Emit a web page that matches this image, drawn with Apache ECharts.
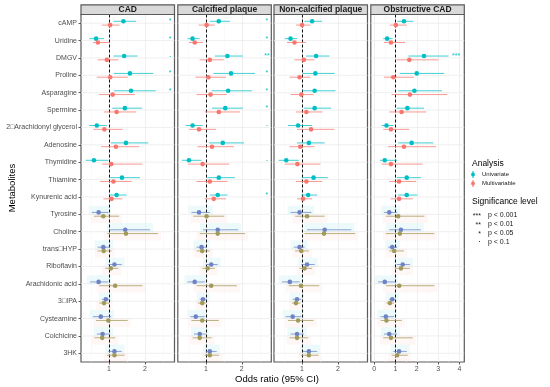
<!DOCTYPE html>
<html><head><meta charset="utf-8">
<script src="https://cdn.jsdelivr.net/npm/echarts@6/dist/echarts.min.js"></script>
<style>html,body{margin:0;padding:0;background:#fff}#c{width:550px;height:387px}</style>
</head><body><div id="c"></div>
<script>
const metabolites = ['cAMP','Uridine','DMGV','Proline','Asparagine','Spermine','2\u25A1Arachidonyl glycerol','Adenosine','Thymidine','Thiamine','Kynurenic acid','Tyrosine','Choline','trans\u25A1HYP','Riboflavin','Arachidonic acid','3\u25A1IPA','Cysteamine','Colchicine','3HK'];
const panels = ['CAD','Calcified plaque','Non-calcified plaque','Obstructive CAD'];
const xTicksA = [1,2];
const xTicksB = [0,1,2,3,4];
// [odds ratio, lower 95% CI, upper 95% CI]
const cadUni = [[1.40,1.12,1.75],[0.64,0.45,0.86],[1.42,1.12,1.79],[1.58,1.14,2.23],[1.61,1.14,2.30],[1.44,1.09,1.92],[0.66,0.45,0.94],[1.47,1.05,2.09],[0.58,0.35,0.98],[1.36,1.03,1.86],[1.21,1.01,1.49],[0.71,0.52,0.98],[1.45,1.03,2.14],[0.84,0.68,1.03],[1.15,0.98,1.35],[0.71,0.47,0.98],[0.91,0.80,1.01],[0.77,0.55,1.06],[0.82,0.66,1.03],[1.15,0.98,1.35]];
const cadMulti = [[1.03,0.80,1.29],[0.69,0.55,1.01],[0.94,0.68,1.26],[1.03,0.66,1.52],[1.10,0.72,1.72],[1.21,0.86,1.75],[0.87,0.56,1.38],[1.19,0.78,1.84],[1.06,0.80,1.93],[1.12,0.75,1.63],[1.07,0.84,1.37],[0.84,0.58,1.28],[1.47,0.95,2.36],[0.85,0.68,1.07],[1.05,0.89,1.26],[1.17,0.73,1.93],[0.86,0.73,1.01],[0.98,0.64,1.52],[0.81,0.59,1.17],[1.15,0.94,1.43]];
const calcUni = [[1.36,1.11,1.67],[0.63,0.49,0.83],[1.60,1.25,2.03],[1.70,1.21,2.37],[1.62,1.16,2.28],[1.54,1.17,2.03],[0.63,0.44,0.91],[1.47,1.09,2.06],[0.53,0.33,0.88],[1.36,1.04,1.81],[1.33,1.11,1.60],[0.81,0.60,1.11],[1.33,0.92,1.90],[0.88,0.74,1.02],[1.15,1.00,1.33],[0.69,0.49,0.97],[0.92,0.83,1.02],[0.72,0.57,0.97],[0.83,0.67,1.00],[1.11,1.00,1.30]];
const calcMulti = [[1.02,0.80,1.25],[0.69,0.53,0.92],[1.11,0.83,1.50],[1.07,0.71,1.56],[1.13,0.74,1.58],[1.36,0.97,1.95],[0.81,0.53,1.28],[1.17,0.77,1.78],[0.91,0.51,1.65],[1.11,0.74,1.60],[1.22,0.97,1.56],[1.02,0.65,1.51],[1.33,0.83,2.09],[0.90,0.74,1.11],[1.05,0.90,1.25],[1.15,0.74,1.86],[0.90,0.78,1.00],[0.90,0.60,1.36],[0.83,0.63,1.16],[1.11,0.97,1.37]];
const nonUni = [[1.28,1.07,1.56],[0.68,0.52,0.86],[1.39,1.11,1.76],[1.37,1.02,1.91],[1.35,1.00,1.93],[1.35,1.05,1.81],[0.89,0.61,1.28],[1.19,0.86,1.63],[0.56,0.35,0.91],[1.32,1.00,1.72],[1.17,0.98,1.42],[0.93,0.68,1.26],[1.63,1.14,2.37],[0.93,0.77,1.07],[1.14,0.98,1.35],[0.66,0.44,0.93],[0.86,0.74,0.98],[0.74,0.54,0.98],[0.86,0.68,1.05],[1.19,1.02,1.42]];
const nonMulti = [[1.00,0.83,1.23],[0.79,0.58,1.11],[1.05,0.79,1.35],[0.93,0.65,1.23],[0.98,0.68,1.32],[1.12,0.83,1.56],[1.25,0.86,1.90],[0.95,0.65,1.35],[0.87,0.52,1.51],[1.12,0.83,1.56],[1.03,0.86,1.28],[1.14,0.81,1.63],[1.61,1.07,2.48],[0.98,0.81,1.19],[1.07,0.93,1.28],[0.97,0.63,1.48],[0.83,0.72,0.95],[0.89,0.61,1.32],[0.86,0.65,1.17],[1.19,0.98,1.46]];
const obsUni = [[1.40,1.08,1.84],[0.61,0.43,0.87],[2.34,1.61,3.49],[2.00,1.21,3.29],[1.89,1.13,3.18],[1.56,1.06,2.34],[0.58,0.35,0.90],[1.76,1.13,2.78],[0.50,0.27,1.08],[1.53,1.06,2.19],[1.53,1.13,2.03],[0.71,0.46,1.08],[1.26,0.71,2.19],[0.85,0.66,1.08],[1.34,1.06,1.68],[0.50,0.19,0.97],[0.85,0.71,1.02],[0.55,0.30,0.93],[0.71,0.46,1.08],[1.17,0.90,1.53]];
const obsMulti = [[1.02,0.74,1.53],[0.79,0.46,1.45],[1.65,1.06,3.02],[0.90,0.46,1.87],[1.68,0.82,3.44],[1.29,0.71,2.44],[0.79,0.43,1.65],[1.40,0.66,2.91],[0.79,0.35,2.28],[1.17,0.71,1.97],[1.17,0.77,1.81],[1.13,0.55,2.36],[1.21,0.55,2.82],[0.94,0.71,1.40],[1.26,0.97,1.68],[1.18,0.55,2.83],[0.74,0.58,0.93],[0.58,0.30,1.29],[0.79,0.43,1.81],[1.08,0.82,1.58]];
// significance of univariate estimates, per metabolite
const sigCad  = ['*','*','\u00B7','*','*','','','','','','','','','','','','','','',''];
const sigCalc = ['*','*','**','*','*','*','\u00B7','','\u00B7','','*','','','','','','','','',''];
const sigNon  = ['','','','','','','','','','','','','','','','','','','',''];
const sigObs  = ['','','***','','','','','','','','','','','','','','','','',''];
const sigLevels = ['***','**','*','\u00B7'];
const sigLabels = ['p < 0.001','p < 0.01','p < 0.05','p < 0.1'];
const analysisNames = ['Univariate','Multivariable'];

const uniSets = [cadUni, calcUni, nonUni, obsUni];
const multiSets = [cadMulti, calcMulti, nonMulti, obsMulti];
const sigSets = [sigCad, sigCalc, sigNon, sigObs];

// ---- style/layout ----
const FONT = 'Liberation Sans, Arial, sans-serif';
const gridLefts = [81, 177.8, 274, 370.8];
const gridW = 93.5, gridTop = 14.5, gridH = 347.5;
const xRanges = [[0.22,2.82],[0.22,2.82],[0.22,2.82],[-0.155,4.23]];
const sigX = [2.7, 2.7, 2.7, 3.85];
const TEAL = '#00BFC4', RED = '#F8766D', BLUE = '#6e83c6', OLIVE = '#a29a5a';
const lowerStart = 11;

const chart = echarts.init(document.getElementById('c'), null, {renderer:'canvas'});

const grids = [], xAxes = [], yAxes = [], series = [], graphics = [];

panels.forEach((name, g) => {
  grids.push({left: gridLefts[g], top: gridTop, width: gridW, height: gridH, show: true,
    borderColor: '#5a5a5a', borderWidth: 1.2, backgroundColor: '#fff', containLabel: false, outerBoundsMode: 'none'});
  const ticks = g === 3 ? xTicksB : xTicksA;
  xAxes.push({type:'value', gridIndex:g, min:xRanges[g][0], max:xRanges[g][1],
    axisLine:{show:false}, splitLine:{show:false},
    axisTick:{show:true, customValues: ticks, length:2.5, lineStyle:{color:'#333', width:0.8}},
    axisLabel:{show:true, customValues: ticks, fontSize:7, color:'#4d4d4d', margin:3.5, fontFamily:FONT}});
  yAxes.push({type:'category', gridIndex:g, data: metabolites, inverse:true, boundaryGap:true,
    axisLine:{show:false}, splitLine:{show:false},
    axisTick:{show: g===0, alignWithLabel:true, length:2.5, lineStyle:{color:'#333', width:0.8}},
    axisLabel:{show: g===0, fontSize:7, color:'#4d4d4d', margin:4, fontFamily:FONT}});

  const major = ticks.map(v => ({xAxis: v, lineStyle:{color:'#ebebeb', width:0.8, type:'solid'}}));
  const minor = (g===3 ? [0.5,1.5,2.5,3.5] : [0.5,1.5,2.5]).map(v => ({xAxis: v, lineStyle:{color:'#f5f5f5', width:0.5, type:'solid'}}));

  // row grid lines + vertical grid lines
  series.push({type:'custom', xAxisIndex:g, yAxisIndex:g, z:1, silent:true,
    data: metabolites.map((m,i)=>[xRanges[g][0], i]),
    encode:{x:0, y:1},
    renderItem(params, api){
      const cs = params.coordSys;
      const p = api.coord([api.value(0), api.value(1)]);
      return {type:'line', shape:{x1:cs.x, y1:p[1], x2:cs.x+cs.width, y2:p[1]}, style:{stroke:'#ebebeb', lineWidth:0.8}};
    },
    markLine:{silent:true, symbol:['none','none'], label:{show:false}, animation:false,
      data: minor.concat(major)}
  });

  // light bands behind lower rows
  series.push({type:'custom', xAxisIndex:g, yAxisIndex:g, z:2, silent:true,
    data: uniSets[g].map((d,i)=>[uniSets[g][i][1], uniSets[g][i][2], multiSets[g][i][1], multiSets[g][i][2], i]).filter(r=>r[4]>=lowerStart),
    encode:{x:[0,1,2,3], y:4},
    renderItem(params, api){
      const i = api.value(4);
      const a = api.coord([api.value(0), i]), b = api.coord([api.value(1), i]);
      const c = api.coord([api.value(2), i]), d = api.coord([api.value(3), i]);
      const h = api.size([0,1])[1]/2;
      return {type:'group', children:[
        {type:'rect', shape:{x:a[0]-3, y:a[1]-h, width:b[0]-a[0]+6, height:h}, style:{fill:'rgba(0,191,196,0.07)'}},
        {type:'rect', shape:{x:c[0]-3, y:c[1], width:d[0]-c[0]+6, height:h}, style:{fill:'rgba(248,118,109,0.06)'}}
      ]};
    }
  });

  // dashed reference line at OR = 1
  series.push({type:'custom', xAxisIndex:g, yAxisIndex:g, z:3, silent:true, data:[[1,0]], encode:{x:0,y:1},
    renderItem(){ return null; },
    markLine:{silent:true, symbol:['none','none'], label:{show:false}, animation:false,
      data:[{xAxis:1}], lineStyle:{color:'#111', width:1, type:[3,2]}}
  });

  const mk = (data, dy, colTop, colLow, nm) => ({
    type:'custom', name:nm, xAxisIndex:g, yAxisIndex:g, z:5,
    data: data.map((d,i)=>[d[0], d[1], d[2], i]),
    encode:{x:[0,1,2], y:3},
    renderItem(params, api){
      const i = api.value(3);
      const p = api.coord([api.value(0), i]);
      const l = api.coord([api.value(1), i]);
      const h = api.coord([api.value(2), i]);
      const col = i >= lowerStart ? colLow : colTop;
      const y = p[1] + dy;
      return {type:'group', children:[
        {type:'line', shape:{x1:l[0], y1:y, x2:h[0], y2:y}, style:{stroke:col, lineWidth:1, opacity:0.75}},
        {type:'circle', shape:{cx:p[0], cy:y, r:2.3}, style:{fill:col}}
      ]};
    }
  });
  series.push(mk(uniSets[g], -1.9, TEAL, BLUE, 'Univariate'));
  series.push(mk(multiSets[g], 1.9, RED, OLIVE, 'Multivariable'));

  // significance markers
  const sigRows = sigSets[g].map((s,i)=>[sigX[g], i, s]).filter(r=>r[2]!=='');
  series.push({type:'custom', xAxisIndex:g, yAxisIndex:g, z:6, silent:true,
    data: sigRows.map(r=>[r[0], r[1]]),
    encode:{x:0, y:1},
    renderItem(params, api){
      const s = sigRows[params.dataIndex][2];
      const p = api.coord([api.value(0), api.value(1)]);
      return {type:'text', x:p[0], y:p[1]-1.9, style:{text: s, fill:TEAL, fontSize: s==='\u00B7'?9:7,
        align:'center', verticalAlign:'middle', textAlign:'center', textVerticalAlign:'middle', fontFamily:FONT}};
    }
  });

  // strip
  graphics.push({type:'rect', shape:{x:gridLefts[g], y:4.8, width:gridW, height:gridTop-4.8},
    style:{fill:'#d9d9d9', stroke:'#5a5a5a', lineWidth:1.2}, z:10});
  graphics.push({type:'text', x:gridLefts[g]+gridW/2, y:(4.8+gridTop)/2+0.3, z:11,
    style:{text:name, fontSize:8.5, fontWeight:'bold', fill:'#1a1a1a', align:'center', verticalAlign:'middle',
      textAlign:'center', textVerticalAlign:'middle', fontFamily:FONT}});
});

// axis titles
graphics.push({type:'text', x:277, y:379, style:{text:'Odds ratio (95% CI)', fontSize:9.5, fill:'#000',
  align:'center', verticalAlign:'middle', textAlign:'center', textVerticalAlign:'middle', fontFamily:FONT}});
graphics.push({type:'text', x:12, y:188, rotation:Math.PI/2, style:{text:'Metabolites', fontSize:9.5, fill:'#000',
  align:'center', verticalAlign:'middle', textAlign:'center', textVerticalAlign:'middle', fontFamily:FONT}});

// legend: Analysis
const LX = 472;
graphics.push({type:'text', x:LX, y:164, style:{text:'Analysis', fontSize:8.5, fill:'#000', align:'left', verticalAlign:'middle',
  textAlign:'left', textVerticalAlign:'middle', fontFamily:FONT}});
[TEAL, RED].forEach((c, k) => {
  const y = 174.5 + k*9;
  graphics.push({type:'line', shape:{x1:LX+1, y1:y-3.5, x2:LX+1, y2:y+3.5}, style:{stroke:c, lineWidth:1}});
  graphics.push({type:'circle', shape:{cx:LX+1, cy:y, r:1.9}, style:{fill:c}});
  graphics.push({type:'text', x:LX+10, y:y, style:{text:analysisNames[k], fontSize:6, fill:'#1a1a1a', align:'left', verticalAlign:'middle',
    textAlign:'left', textVerticalAlign:'middle', fontFamily:FONT}});
});
graphics.push({type:'text', x:LX, y:202, style:{text:'Significance level', fontSize:8.5, fill:'#000', align:'left', verticalAlign:'middle',
  textAlign:'left', textVerticalAlign:'middle', fontFamily:FONT}});
sigLevels.forEach((s, k) => {
  const y = 215 + k*9;
  graphics.push({type:'text', x:481, y: s==='\u00B7'? y : y+1, style:{text:s, fontSize: s==='\u00B7'?9:7, fill:'#1a1a1a', align:'right', verticalAlign:'middle',
    textAlign:'right', textVerticalAlign:'middle', fontFamily:FONT}});
  graphics.push({type:'text', x:488, y:y, style:{text:sigLabels[k], fontSize:7, fill:'#1a1a1a', align:'left', verticalAlign:'middle',
    textAlign:'left', textVerticalAlign:'middle', fontFamily:FONT}});
});

chart.setOption({
  animation:false,
  backgroundColor:'#fff',
  grid: grids, xAxis: xAxes, yAxis: yAxes, series: series, graphic: graphics
});
</script></body></html>
